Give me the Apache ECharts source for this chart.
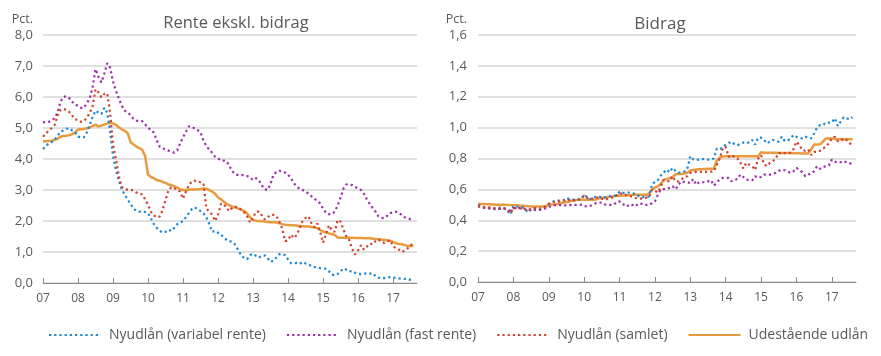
<!DOCTYPE html>
<html>
<head>
<meta charset="utf-8">
<script src="https://cdn.jsdelivr.net/npm/echarts@6/dist/echarts.min.js"></script>
<style>
html,body{margin:0;padding:0;background:#fff;}
#c{width:881px;height:356px;}
</style>
</head>
<body>
<div id="c"></div>
<script>
// Tick labels (years) and month index: 0 = Jan 2007
const yearLabels = ['07','08','09','10','11','12','13','14','15','16','17'];
const seriesNames = ['Nyudlån (variabel rente)','Nyudlån (fast rente)','Nyudlån (samlet)','Udestående udlån'];

// Left panel: Rente ekskl. bidrag (pct.), monthly Jan 2007 - Aug 2017
const renteVariabel = [
 4.32,4.42,4.5,4.55,4.62,4.75,4.88,4.92,4.97,4.99,4.92,4.87,
 4.72,4.70,4.70,4.85,5.1,5.35,5.56,5.5,5.45,5.65,5.5,4.9,
 4.1,3.65,3.3,3.02,2.85,2.7,2.55,2.4,2.33,2.3,2.3,2.29,
 2.25,2.08,1.9,1.78,1.68,1.63,1.65,1.72,1.68,1.78,1.9,1.94,
 2.0,2.13,2.25,2.38,2.44,2.38,2.32,2.25,2.12,1.9,1.65,1.68,
 1.62,1.55,1.48,1.38,1.35,1.32,1.22,1.05,0.88,0.8,0.77,0.9,
 0.94,0.88,0.82,0.88,0.89,0.8,0.68,0.72,0.82,0.93,0.93,0.9,
 0.76,0.64,0.63,0.65,0.62,0.68,0.63,0.6,0.55,0.52,0.5,0.48,
 0.47,0.46,0.38,0.27,0.25,0.29,0.38,0.47,0.43,0.37,0.39,0.33,
 0.3,0.28,0.3,0.31,0.3,0.32,0.22,0.17,0.16,0.16,0.17,0.19,
 0.18,0.16,0.15,0.14,0.13,0.13,0.1,0.08];
const renteFast = [
 5.18,5.19,5.2,5.24,5.32,5.5,5.85,6.0,6.03,5.96,5.85,5.75,
 5.72,5.65,5.65,5.8,5.95,6.3,6.9,6.65,6.47,6.75,7.09,6.95,
 6.5,6.2,5.95,5.72,5.56,5.5,5.42,5.3,5.24,5.22,5.22,5.12,
 5.0,4.95,4.85,4.6,4.4,4.35,4.3,4.27,4.24,4.2,4.28,4.5,
 4.7,4.88,5.05,5.05,4.97,4.93,4.86,4.6,4.42,4.3,4.2,4.07,
 4.02,3.95,3.95,3.92,3.75,3.6,3.5,3.48,3.48,3.48,3.45,3.4,
 3.32,3.38,3.32,3.15,3.02,3.0,3.2,3.5,3.58,3.62,3.6,3.56,
 3.5,3.38,3.22,3.1,3.04,3.0,2.96,2.88,2.8,2.72,2.65,2.57,
 2.4,2.26,2.22,2.22,2.3,2.5,2.75,3.05,3.18,3.17,3.16,3.1,
 3.05,3.0,2.88,2.7,2.55,2.42,2.3,2.15,2.1,2.09,2.17,2.25,
 2.28,2.3,2.25,2.2,2.12,2.08,2.06,2.08];
const renteSamlet = [
 4.72,4.82,4.92,5.0,5.1,5.4,5.58,5.62,5.58,5.52,5.4,5.28,
 5.26,5.2,5.22,5.33,5.48,5.7,6.25,6.15,5.99,6.1,6.12,5.5,
 4.45,4.0,3.45,3.1,3.03,3.01,3.01,2.98,2.92,2.88,2.86,2.7,
 2.52,2.3,2.18,2.12,2.14,2.35,2.68,2.98,3.1,3.06,3.0,2.95,
 2.72,2.95,3.15,3.28,3.3,3.27,3.25,3.22,2.4,2.3,2.2,2.0,
 2.2,2.55,2.55,2.4,2.32,2.45,2.46,2.44,2.36,2.28,2.15,1.95,
 2.1,2.3,2.3,2.18,2.05,2.12,2.2,2.2,2.16,1.98,1.75,1.35,
 1.38,1.56,1.45,1.55,1.78,2.0,2.1,2.15,1.93,1.8,1.92,1.65,
 1.3,1.58,1.86,1.7,1.65,2.03,1.98,1.72,1.5,1.38,1.1,0.92,
 1.05,1.22,1.08,1.17,1.27,1.25,1.35,1.41,1.33,1.29,1.33,1.38,
 1.19,1.12,1.08,1.0,1.05,1.12,1.19,1.33];
const renteUdestaaende = [
 4.57,4.57,4.58,4.59,4.62,4.65,4.72,4.74,4.75,4.77,4.8,4.85,
 4.95,4.96,4.97,4.99,5.02,5.06,5.11,5.05,5.08,5.11,5.14,5.17,
 5.15,5.1,5.02,4.96,4.91,4.84,4.55,4.47,4.4,4.35,4.3,4.1,
 3.5,3.42,3.38,3.32,3.3,3.26,3.23,3.18,3.16,3.12,3.08,3.03,
 3.0,3.0,3.01,3.02,3.02,3.02,3.03,3.05,3.04,3.0,2.95,2.88,
 2.76,2.7,2.62,2.55,2.5,2.46,2.43,2.4,2.36,2.32,2.24,2.12,
 2.03,2.01,2.0,1.99,1.98,1.97,1.96,1.96,1.95,1.93,1.9,1.88,
 1.87,1.86,1.86,1.85,1.84,1.83,1.82,1.82,1.81,1.79,1.77,1.71,
 1.66,1.63,1.6,1.58,1.55,1.47,1.46,1.46,1.46,1.46,1.46,1.45,
 1.45,1.45,1.44,1.44,1.44,1.43,1.42,1.41,1.4,1.39,1.38,1.36,
 1.33,1.28,1.26,1.25,1.22,1.19,1.19,1.19];

// Right panel: Bidrag (pct.)
const bidragVariabel = [
 0.5,0.49,0.485,0.48,0.478,0.475,0.474,0.474,0.476,0.478,0.47,0.441,
 0.489,0.489,0.489,0.485,0.47,0.45,0.47,0.476,0.474,0.474,0.482,0.489,
 0.505,0.515,0.525,0.528,0.528,0.53,0.543,0.538,0.535,0.533,0.535,0.537,
 0.565,0.55,0.537,0.545,0.552,0.556,0.545,0.548,0.554,0.557,0.559,0.56,
 0.585,0.578,0.577,0.58,0.576,0.572,0.563,0.55,0.55,0.55,0.554,0.63,
 0.65,0.66,0.69,0.71,0.728,0.71,0.739,0.72,0.708,0.71,0.715,0.735,
 0.815,0.795,0.79,0.795,0.796,0.795,0.793,0.793,0.8,0.865,0.86,0.87,
 0.888,0.9,0.909,0.893,0.886,0.895,0.904,0.9,0.905,0.92,0.89,0.935,
 0.935,0.92,0.898,0.91,0.92,0.912,0.909,0.941,0.915,0.915,0.93,0.952,
 0.94,0.935,0.93,0.941,0.935,0.93,0.963,1.0,1.017,1.017,1.033,1.033,
 1.033,1.061,1.011,1.039,1.067,1.06,1.054,1.067];
const bidragFast = [
 0.489,0.485,0.48,0.478,0.476,0.474,0.472,0.473,0.474,0.474,0.47,0.463,
 0.478,0.478,0.478,0.478,0.474,0.47,0.467,0.467,0.467,0.467,0.472,0.478,
 0.485,0.493,0.497,0.5,0.498,0.496,0.496,0.498,0.5,0.5,0.5,0.5,
 0.492,0.489,0.494,0.5,0.511,0.513,0.515,0.502,0.5,0.5,0.5,0.518,
 0.522,0.511,0.489,0.495,0.504,0.49,0.5,0.511,0.5,0.5,0.5,0.51,
 0.522,0.565,0.6,0.602,0.602,0.61,0.62,0.6,0.63,0.652,0.648,0.646,
 0.641,0.667,0.63,0.646,0.646,0.646,0.652,0.659,0.624,0.645,0.665,0.674,
 0.674,0.674,0.652,0.66,0.667,0.696,0.68,0.663,0.66,0.659,0.685,0.674,
 0.68,0.696,0.696,0.696,0.7,0.707,0.72,0.728,0.724,0.715,0.707,0.717,
 0.739,0.725,0.711,0.685,0.696,0.705,0.717,0.75,0.733,0.745,0.75,0.754,
 0.793,0.78,0.772,0.776,0.783,0.775,0.767,0.772];
const bidragSamlet = [
 0.493,0.488,0.485,0.484,0.483,0.48,0.478,0.48,0.483,0.475,0.457,0.445,
 0.478,0.478,0.478,0.475,0.47,0.46,0.475,0.478,0.476,0.474,0.482,0.489,
 0.507,0.512,0.52,0.522,0.522,0.528,0.533,0.53,0.526,0.53,0.533,0.54,
 0.561,0.545,0.537,0.541,0.545,0.55,0.54,0.533,0.538,0.543,0.55,0.56,
 0.576,0.57,0.565,0.56,0.554,0.548,0.54,0.54,0.543,0.546,0.55,0.598,
 0.59,0.58,0.62,0.663,0.655,0.652,0.685,0.652,0.652,0.665,0.68,0.685,
 0.707,0.71,0.713,0.713,0.713,0.713,0.713,0.715,0.717,0.76,0.8,0.865,
 0.876,0.81,0.822,0.81,0.8,0.772,0.735,0.772,0.76,0.75,0.725,0.798,
 0.822,0.765,0.75,0.772,0.783,0.8,0.837,0.83,0.835,0.837,0.837,0.86,
 0.909,0.887,0.854,0.85,0.859,0.822,0.843,0.843,0.85,0.865,0.876,0.9,
 0.93,0.941,0.913,0.913,0.93,0.92,0.902,0.88];
const bidragUdestaaende = [
 0.507,0.506,0.505,0.504,0.503,0.502,0.501,0.5,0.5,0.5,0.499,0.498,
 0.497,0.497,0.496,0.494,0.492,0.49,0.489,0.489,0.489,0.489,0.489,0.489,
 0.502,0.502,0.502,0.505,0.51,0.515,0.518,0.522,0.527,0.53,0.532,0.533,
 0.533,0.533,0.533,0.533,0.534,0.543,0.545,0.548,0.55,0.552,0.555,0.558,
 0.559,0.56,0.561,0.562,0.563,0.565,0.565,0.565,0.565,0.565,0.575,0.598,
 0.612,0.62,0.635,0.66,0.668,0.672,0.68,0.698,0.7,0.7,0.703,0.708,
 0.722,0.726,0.728,0.73,0.731,0.732,0.733,0.734,0.735,0.785,0.805,0.813,
 0.815,0.815,0.815,0.815,0.815,0.815,0.815,0.815,0.815,0.815,0.815,0.815,
 0.84,0.838,0.838,0.837,0.837,0.837,0.836,0.836,0.835,0.835,0.835,0.834,
 0.834,0.834,0.833,0.833,0.833,0.86,0.89,0.891,0.892,0.91,0.93,0.93,
 0.93,0.926,0.924,0.924,0.924,0.924,0.924,0.924];

const colors = ['#1a88d6', '#9b30a8', '#d3432f', '#e89b3c'];
const TXT = '#595959';
const FONT = 'Open Sans';

function pairs(arr){ return arr.map((v,i)=>[i,v]); }
const yearTicks = yearLabels.map((_,i)=>i*12);

function xAxisCfg(gi){
  return {
    type:'value', gridIndex:gi, min:0, max:128.2,
    axisLine:{show:true, lineStyle:{color:'#8c8c8c', width:1}},
    axisTick:{show:true, inside:true, length:5, customValues:yearTicks, lineStyle:{color:'#8c8c8c'}},
    axisLabel:{customValues:yearTicks, color:TXT, fontFamily:FONT, fontSize:12, margin:10,
      formatter:v=>yearLabels[Math.round(v/12)]},
    splitLine:{show:false}
  };
}
function yAxisCfg(gi, max, interval, margin){
  return {
    type:'value', gridIndex:gi, min:0, max:max, interval:interval,
    name:'Pct.', nameLocation:'end', nameGap:9,
    nameTextStyle:{color:TXT, fontFamily:FONT, fontSize:12.5, align:'right', padding:[0,margin,0,0]},
    axisLine:{show:false}, axisTick:{show:false},
    axisLabel:{color:TXT, fontFamily:FONT, fontSize:13, margin:margin,
      formatter:v=>v.toFixed(1).replace('.',',')},
    splitLine:{show:true, lineStyle:{color:'#d6d6d6', width:1.5}}
  };
}
function mk(name, data, gi, ci){
  const solid = ci===3;
  return {
    name:name, type:'line', xAxisIndex:gi, yAxisIndex:gi, data:pairs(data),
    showSymbol:false, symbol:'none', animation:false, z: solid?2:3,
    lineStyle: solid ? {color:colors[ci], width:2.5, type:'solid'}
                     : {color:colors[ci], width:2.2, type:[2.2,3], cap:'butt'},
    itemStyle:{color:colors[ci]}
  };
}

const chart = echarts.init(document.getElementById('c'), null, {renderer:'canvas'});
chart.setOption({
  animation:false,
  backgroundColor:'#ffffff',
  title:[
    {text:'Rente ekskl. bidrag', left:231, top:10, textAlign:'center',
     textStyle:{color:TXT, fontFamily:FONT, fontSize:16.5, fontWeight:'normal'}},
    {text:'Bidrag', left:655, top:11, textAlign:'center',
     textStyle:{color:TXT, fontFamily:FONT, fontSize:17, fontWeight:'normal'}}
  ],
  grid:[
    {left:43, top:35, width:374, height:248},
    {left:478, top:35, width:378, height:247}
  ],
  xAxis:[xAxisCfg(0), xAxisCfg(1)],
  yAxis:[yAxisCfg(0,8,1,10), yAxisCfg(1,1.6,0.2,11)],
  legend:{
    data:seriesNames, left:43, top:323, itemWidth:52, itemHeight:10, itemGap:20,
    itemStyle:{opacity:0},
    textStyle:{color:TXT, fontFamily:FONT, fontSize:14, padding:[0,0,0,3]}
  },
  series:[
    mk(seriesNames[0], renteVariabel, 0, 0),
    mk(seriesNames[1], renteFast, 0, 1),
    mk(seriesNames[2], renteSamlet, 0, 2),
    mk(seriesNames[3], renteUdestaaende, 0, 3),
    mk(seriesNames[0], bidragVariabel, 1, 0),
    mk(seriesNames[1], bidragFast, 1, 1),
    mk(seriesNames[2], bidragSamlet, 1, 2),
    mk(seriesNames[3], bidragUdestaaende, 1, 3)
  ]
});
</script>
</body>
</html>
